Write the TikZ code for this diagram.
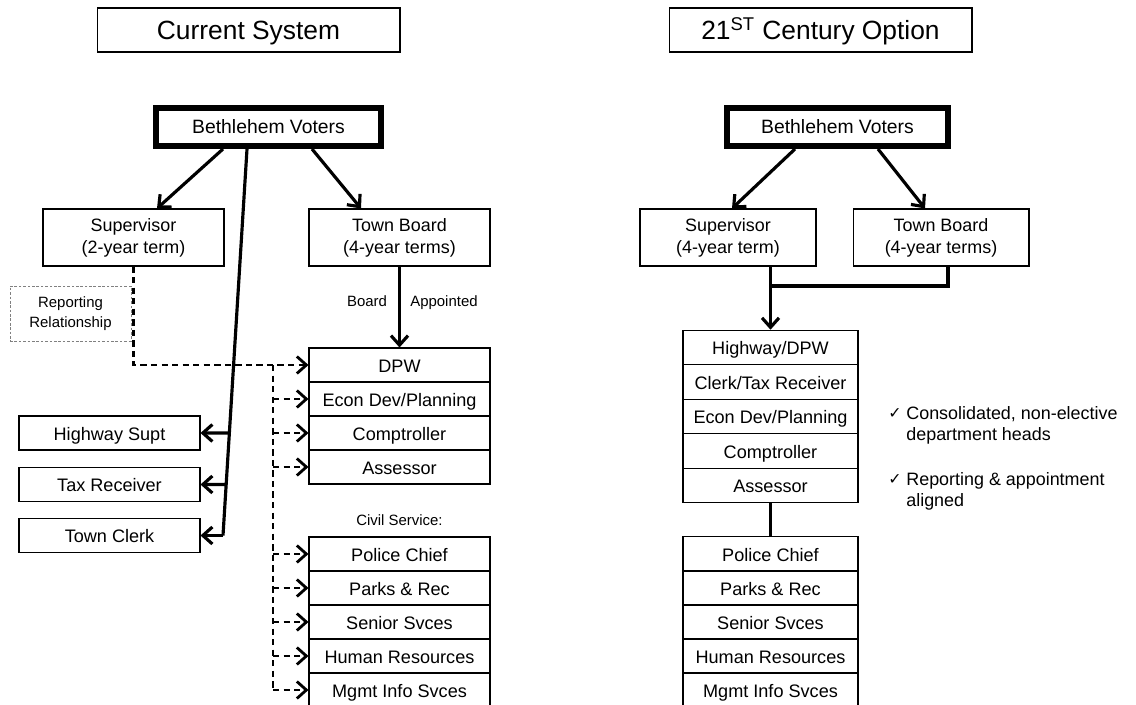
\documentclass[tikz,border=0pt]{standalone}
\usepackage{fontspec}
\setmainfont{Liberation Sans}
\newfontfamily\symfont{DejaVu Sans}
\usetikzlibrary{arrows.meta}

\begin{document}
\begin{tikzpicture}[x=0.02cm,y=-0.02cm,
   every node/.style={font=\fontsize{10.3}{12}\selectfont},
   box/.style={draw,line width=0.6pt,inner sep=0pt,align=center},
   titlebox/.style={box,minimum width=6.06cm,minimum height=0.88cm,text height=11pt,text depth=0pt,font=\fontsize{15}{18}\selectfont},
   voters/.style={draw,line width=3.4pt,inner sep=0pt,minimum height=0.76cm,font=\fontsize{11}{13}\selectfont},
   office/.style={box,minimum height=1.14cm,font=\fontsize{10.2}{12.5}\selectfont},
   ldept/.style={box,minimum width=3.62cm,minimum height=0.68cm,text height=8.2pt,text depth=0pt},
   rdept/.style={box,minimum width=3.5cm,minimum height=0.69cm,text height=8.2pt,text depth=0pt},
   repbox/.style={draw=gray,line width=0.5pt,dash pattern=on 1.5pt off 1pt,inner sep=0pt,
      minimum width=2.42cm,minimum height=1.1cm,align=center,font=\fontsize{8.5}{11}\selectfont},
   note/.style={font=\fontsize{8.5}{11}\selectfont,text height=6.3pt,text depth=1.8pt},
   link/.style={line width=1.8pt},
   arr/.style={link,-{Straight Barb[length=1.9mm,width=3.4mm]}},
   dashlink/.style={line width=1.6pt,dash pattern=on 3.6pt off 2.4pt},
   dasharr/.style={dashlink,-{Straight Barb[length=1.9mm,width=3.4mm]}}
]
   \useasboundingbox (0,0) rectangle (1136,705);

   % titles
   \node[titlebox] (ltitle) at (248.5,30) {Current System};
   \node[titlebox] (rtitle) at (820.5,30) {21\textsuperscript{ST} Century Option};

   % current system
   \node[voters,minimum width=4.5cm] (lvoters) at (268.5,127) {Bethlehem Voters};
   \node[office,minimum width=3.62cm] (lsup) at (133.5,237.5) {Supervisor\\(2-year term)};
   \node[office,minimum width=3.62cm] (lboard) at (399.5,237.5) {Town Board\\(4-year terms)};
   \node[repbox] (lrep) at (70.5,313.5) {Reporting\\Relationship};
   \node[note] (lbrd) at (367,303) {Board};
   \node[note] (lapp) at (444,303) {Appointed};

   \node[ldept,minimum width=3.62cm] (lhwy) at (109.5,433) {Highway Supt};
   \node[ldept,minimum width=3.62cm] (ltax) at (109.5,484.5) {Tax Receiver};
   \node[ldept,minimum width=3.62cm] (lclerk) at (109.5,535.5) {Town Clerk};

   \node[ldept] (ldpw) at (399.5,365) {DPW};
   \node[ldept] (lecon) at (399.5,399) {Econ Dev/Planning};
   \node[ldept] (lcomp) at (399.5,433) {Comptroller};
   \node[ldept] (lass) at (399.5,467) {Assessor};
   \node[note] (lcivil) at (399.5,522) {Civil Service:};
   \node[ldept] (lpol) at (399.5,554) {Police Chief};
   \node[ldept] (lpark) at (399.5,588) {Parks \& Rec};
   \node[ldept] (lsen) at (399.5,622) {Senior Svces};
   \node[ldept] (lhr) at (399.5,656) {Human Resources};
   \node[ldept] (lmis) at (399.5,690) {Mgmt Info Svces};

   \draw[arr] ([xshift=-0.91cm]lvoters.south) -- ([xshift=0.47cm]lsup.north);
   \draw[arr] ([xshift=0.87cm]lvoters.south) -- ([xshift=-0.77cm]lboard.north);
   \coordinate (ltop) at ([xshift=-0.43cm]lvoters.south);
   \coordinate (lbend) at (223,535.5);
   \draw[link] (ltop) -- (lbend);
   \draw[arr] (lbend) -- (lclerk.east);
   \draw[arr] (intersection of ltop--lbend and lhwy.west--lhwy.east) -- (lhwy.east);
   \draw[arr] (intersection of ltop--lbend and ltax.west--ltax.east) -- (ltax.east);
   \draw[arr] (lboard.south) -- (ldpw.north);

   \draw[dasharr] (lsup.south) |- (ldpw.west);
   \coordinate (ltrunk) at (273,365);
   \draw[dashlink] (ltrunk) -- (ltrunk |- lmis.west);
   \foreach \n in {lecon,lcomp,lass,lpol,lpark,lsen,lhr,lmis}
      \draw[dasharr] (ltrunk |- \n.west) -- (\n.west);

   % 21st century option
   \node[voters,minimum width=4.42cm] (rvoters) at (837.5,127) {Bethlehem Voters};
   \node[office,minimum width=3.52cm] (rsup) at (728,237.5) {Supervisor\\(4-year term)};
   \node[office,minimum width=3.52cm] (rboard) at (941,237.5) {Town Board\\(4-year terms)};

   \node[rdept] (rhwy) at (770.5,347.5) {Highway/DPW};
   \node[rdept] (rclerk) at (770.5,382) {Clerk/Tax Receiver};
   \node[rdept] (recon) at (770.5,416.5) {Econ Dev/Planning};
   \node[rdept] (rcomp) at (770.5,451) {Comptroller};
   \node[rdept] (rass) at (770.5,485.5) {Assessor};
   \node[rdept] (rpol) at (770.5,554) {Police Chief};
   \node[rdept] (rpark) at (770.5,588) {Parks \& Rec};
   \node[rdept] (rsen) at (770.5,622) {Senior Svces};
   \node[rdept] (rhr) at (770.5,656) {Human Resources};
   \node[rdept] (rmis) at (770.5,690) {Mgmt Info Svces};

   \draw[arr] ([xshift=-0.85cm]rvoters.south) -- ([xshift=0.08cm]rsup.north);
   \draw[arr] ([xshift=0.81cm]rvoters.south) -- ([xshift=-0.32cm]rboard.north);
   \coordinate (rmeet) at (770.5,286);
   \draw[arr] (rsup.south -| rhwy.north) -- (rhwy.north);
   \draw[link] ([xshift=0.14cm]rboard.south) |- (rmeet);
   \draw[link] (rass.south) -- (rpol.north);

   % notes
   \node[anchor=base,font=\symfont\fontsize{9}{10}\selectfont] (rchk1) at (895,419) {✓};
   \node[anchor=north west,align=left,inner sep=0pt,font=\fontsize{10.2}{12}\selectfont] (rtxt1) at (906,406)
      {Consolidated, non-elective\\department heads};
   \node[anchor=base,font=\symfont\fontsize{9}{10}\selectfont] (rchk2) at (895,485) {✓};
   \node[anchor=north west,align=left,inner sep=0pt,font=\fontsize{10.2}{12}\selectfont] (rtxt2) at (906,472)
      {Reporting \& appointment\\aligned};
\end{tikzpicture}
\end{document}
